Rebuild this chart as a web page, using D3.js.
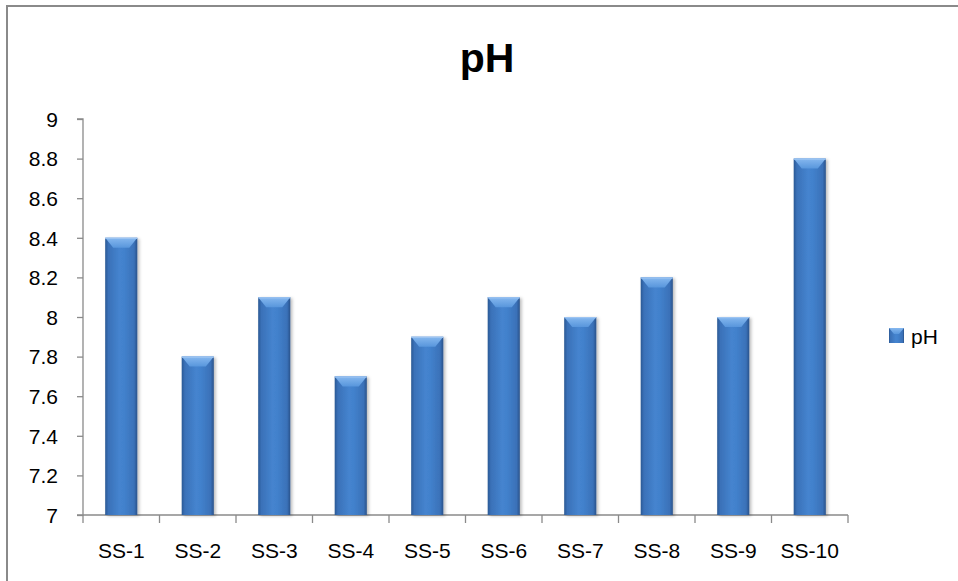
<!DOCTYPE html>
<html>
<head>
<meta charset="utf-8">
<script src="https://cdn.jsdelivr.net/npm/d3@7"></script>
<style>
  html, body { margin: 0; padding: 0; background: #fff; }
  svg { display: block; }
  text { font-family: "Liberation Sans", Arial, sans-serif; fill: #000; }
</style>
</head>
<body>
<svg id="chart" width="958" height="581"></svg>
<script>
const categories = ["SS-1", "SS-2", "SS-3", "SS-4", "SS-5", "SS-6", "SS-7", "SS-8", "SS-9", "SS-10"];
const phValues = [8.4, 7.8, 8.1, 7.7, 7.9, 8.1, 8.0, 8.2, 8.0, 8.8];
const yTicks = [7, 7.2, 7.4, 7.6, 7.8, 8, 8.2, 8.4, 8.6, 8.8, 9];
const seriesName = "pH";
const titleText = "pH";

const svg = d3.select("#chart");
const W = 958, H = 581;
const plot = { left: 83, right: 848, top: 119, bottom: 515 };
const FS = 21;

// outer border
svg.append("rect").attr("x", 7).attr("y", 6).attr("width", W + 10).attr("height", H + 10)
  .attr("fill", "#fff").attr("stroke", "#8a8a8a").attr("stroke-width", 2);

const defs = svg.append("defs");
const hg = defs.append("linearGradient").attr("id", "barH").attr("x1", "0").attr("x2", "1").attr("y1", "0").attr("y2", "0");
[["0%", "#2b5894"], ["10%", "#3a71b8"], ["45%", "#4584cf"], ["60%", "#4281cc"], ["90%", "#3a71b8"], ["100%", "#29528a"]]
  .forEach(([o, c]) => hg.append("stop").attr("offset", o).attr("stop-color", c));
const vg = defs.append("linearGradient").attr("id", "barTop").attr("x1", "0").attr("x2", "0").attr("y1", "0").attr("y2", "1");
[["0%", "#86b8ef"], ["100%", "#5896dc"]].forEach(([o, c]) => vg.append("stop").attr("offset", o).attr("stop-color", c));
const sg = defs.append("filter").attr("id", "shadow").attr("x", "-20%").attr("y", "-5%").attr("width", "150%").attr("height", "115%");
sg.append("feDropShadow").attr("dx", 2).attr("dy", 1).attr("stdDeviation", 1.5).attr("flood-color", "#000").attr("flood-opacity", 0.25);

const x = d3.scaleBand().domain(categories).range([plot.left, plot.right]).padding(0);
const y = d3.scaleLinear().domain([7, 9]).range([plot.bottom, plot.top]);

// Title
svg.append("text").attr("x", 487).attr("y", 72).attr("text-anchor", "middle")
  .attr("font-size", 41).attr("font-weight", "bold").text(titleText);

// Y axis
const yAxis = d3.axisLeft(y).tickValues(yTicks).tickSize(6).tickPadding(19).tickFormat(d => d3.format("~g")(d));
const yg = svg.append("g").attr("transform", `translate(${plot.left},0)`).call(yAxis);
yg.select(".domain").attr("stroke", "#8a8a8a").attr("stroke-width", 1.3).attr("d", `M-6,${plot.top}H0V${plot.bottom}H-6`);
yg.selectAll(".tick line").attr("stroke", "#8a8a8a").attr("stroke-width", 1.3);
yg.selectAll(".tick text").attr("font-size", FS).attr("font-family", "Liberation Sans, Arial, sans-serif").attr("fill", "#000").attr("dy", "0.35em");

// X axis
const xAxis = d3.axisBottom(x).tickSize(0).tickPadding(28);
const xg = svg.append("g").attr("transform", `translate(0,${plot.bottom})`).call(xAxis);
xg.select(".domain").attr("stroke", "#8a8a8a").attr("stroke-width", 1.3).attr("d", `M${plot.left},0H${plot.right}`);
xg.selectAll(".tick text").attr("font-size", FS).attr("font-family", "Liberation Sans, Arial, sans-serif").attr("fill", "#000");
const bounds = categories.map(c => x(c)).concat([plot.right]);
xg.selectAll("line.sep").data(bounds).enter().append("line").attr("class", "sep")
  .attr("x1", d => d).attr("x2", d => d).attr("y1", 0).attr("y2", 8)
  .attr("stroke", "#8a8a8a").attr("stroke-width", 1.3);

// Bars
const bw = x.bandwidth() * 0.42;
const bars = svg.append("g").selectAll("g.bar").data(categories.map((c, i) => ({ c, v: phValues[i] })))
  .enter().append("g").attr("class", "bar");
bars.append("rect")
  .attr("x", d => x(d.c) + x.bandwidth() / 2 - bw / 2)
  .attr("y", d => y(d.v))
  .attr("width", bw)
  .attr("height", d => y(7) - y(d.v))
  .attr("fill", "url(#barH)")
  .attr("filter", "url(#shadow)");
bars.append("path")
  .attr("d", d => {
    const x0 = x(d.c) + x.bandwidth() / 2 - bw / 2, y0 = y(d.v);
    return `M${x0},${y0}H${x0 + bw}L${x0 + bw - 8},${y0 + 10}H${x0 + 8}Z`;
  })
  .attr("fill", "url(#barTop)");
bars.append("rect")
  .attr("x", d => x(d.c) + x.bandwidth() / 2 - bw / 2)
  .attr("y", d => y(d.v))
  .attr("width", bw).attr("height", 1.2).attr("fill", "#9cc4f2");

// Legend
const lg = svg.append("g").attr("transform", "translate(889,328)");
lg.append("rect").attr("width", 15).attr("height", 15).attr("fill", "url(#barH)");
lg.append("path").attr("d", "M0,0H15L10,6H5Z").attr("fill", "url(#barTop)");
lg.append("text").attr("x", 22).attr("y", 16).attr("font-size", FS).text(seriesName);
</script>
</body>
</html>
